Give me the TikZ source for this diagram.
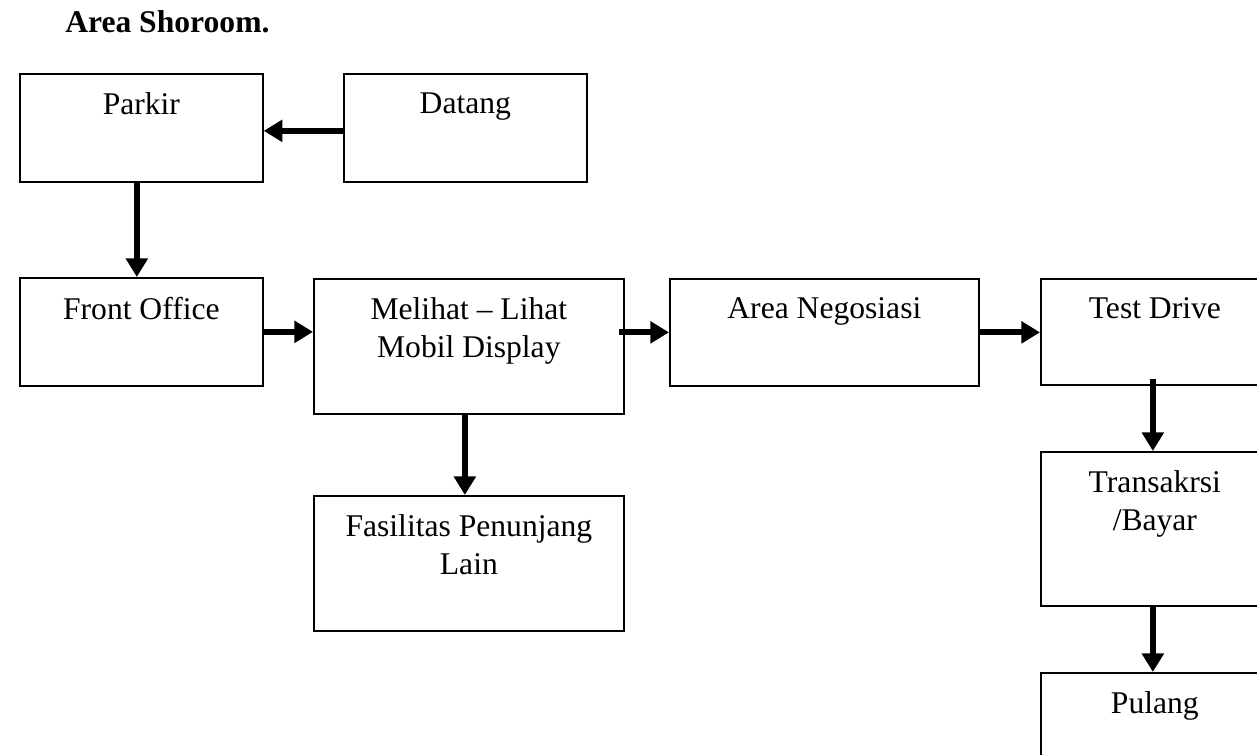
\documentclass[tikz,border=0pt]{standalone}
\usepackage{fontspec}
\setmainfont{Liberation Serif}
\usetikzlibrary{arrows.meta,calc}
\tikzset{
  box/.style={draw, line width=1.3pt, rectangle, inner sep=0pt, anchor=north west},
  lbl/.style={anchor=north, inner sep=0pt, font=\fontsize{23.7}{28.5}\selectfont, align=center},
  arr/.style={line width=4.5pt, -{Triangle[length=14pt,width=16pt]}},
}
\begin{document}
\begin{tikzpicture}[x=0.75pt,y=-0.75pt]
\useasboundingbox (0,0) rectangle (1257,755);
\clip (0,0) rectangle (1257,755);
\fill[white] (0,0) rectangle (1257,755);

\node[anchor=base west, inner sep=0pt, font=\fontsize{23.7}{28.5}\selectfont\bfseries] (title) at (65,33) {Area Shoroom.};

% boxes
\node[box, minimum width=243*0.75pt, minimum height=108*0.75pt] (parkir) at (19,73) {};
\node[box, minimum width=243*0.75pt, minimum height=108*0.75pt] (datang) at (343,73) {};
\node[box, minimum width=243*0.75pt, minimum height=108*0.75pt] (fo) at (19,277) {};
\node[box, minimum width=310*0.75pt, minimum height=135*0.75pt] (melihat) at (313,278) {};
\node[box, minimum width=310*0.75pt, minimum height=135*0.75pt] (fas) at (313,495) {};
\node[box, minimum width=309*0.75pt, minimum height=107*0.75pt] (an) at (669,278) {};
\node[box, minimum width=228*0.75pt, minimum height=106*0.75pt] (td) at (1040,278) {};
\node[box, minimum width=228*0.75pt, minimum height=154*0.75pt] (trans) at (1040,451) {};
\node[box, minimum width=228*0.75pt, minimum height=110*0.75pt] (pulang) at (1040,672) {};

% labels
\node[lbl] (tparkir) at ([yshift=-19.5*0.75pt]parkir.north) {Parkir};
\node[lbl] (tdatang) at ([yshift=-19.5*0.75pt]datang.north) {Datang};
\node[lbl] (tfo) at ([yshift=-19.5*0.75pt]fo.north) {Front Office};
\node[lbl] (tmelihat) at ([yshift=-19.5*0.75pt]melihat.north) {Melihat – Lihat\\Mobil Display};
\node[lbl] (tfas) at ([yshift=-19.5*0.75pt]fas.north) {Fasilitas Penunjang\\Lain};
\node[lbl] (tan) at ([yshift=-19.5*0.75pt]an.north) {Area Negosiasi};
\node[lbl] (ttd) at ([yshift=-19.5*0.75pt]td.north) {Test Drive};
\node[lbl] (ttrans) at ([yshift=-19.5*0.75pt]trans.north) {Transakrsi\\/Bayar};
\node[lbl] (tpulang) at ([yshift=-19.5*0.75pt]pulang.north) {Pulang};

% connectors
\draw[arr] ([yshift=-2.25pt]datang.west) -- ([yshift=-2.25pt]parkir.east);
\draw[arr] ([xshift=-3.4pt]parkir.south) -- ([xshift=-3.4pt]parkir.south |- fo.north);
\draw[arr] (fo.east) -- (fo.east -| melihat.west);
\draw[arr] ([xshift=-4pt]an.west -| melihat.east) -- (an.west);
\draw[arr] (an.east) -- (an.east -| td.west);
\draw[arr] ([xshift=-3pt]melihat.south) -- ([xshift=-3pt]melihat.south |- fas.north);
\draw[arr] ([xshift=-1.5pt,yshift=5pt]td.south) -- ([xshift=-1.5pt]trans.north);
\draw[arr] ([xshift=-1.5pt]trans.south) -- ([xshift=-1.5pt]pulang.north);
\end{tikzpicture}
\end{document}
